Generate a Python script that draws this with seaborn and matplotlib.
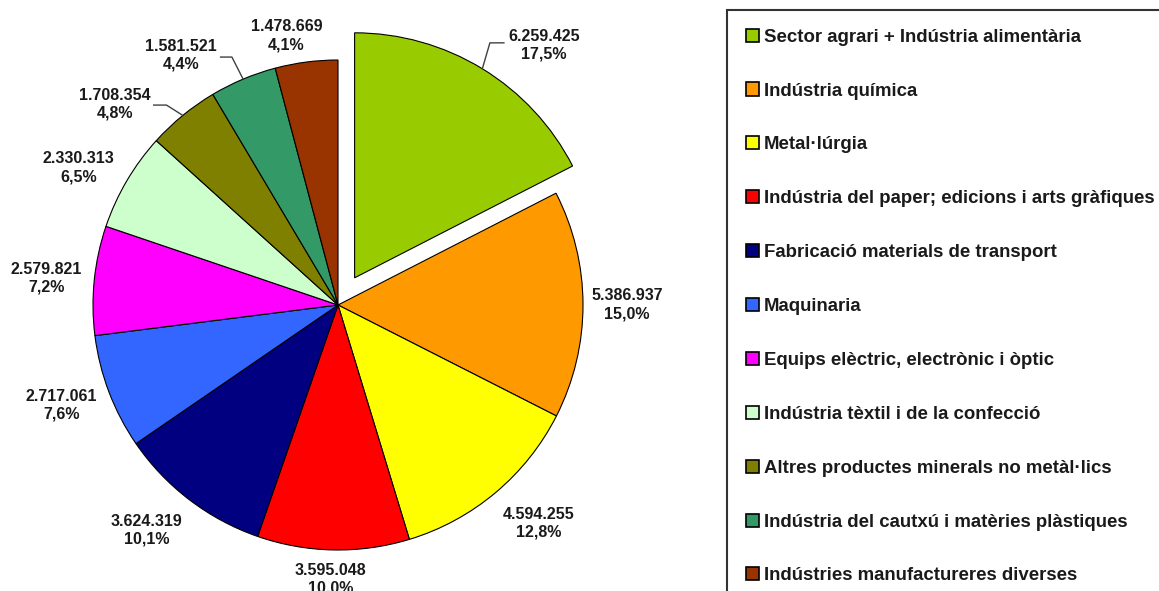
import numpy as np
import matplotlib
matplotlib.use("Agg")
import matplotlib.pyplot as plt
import matplotlib.patches as mpatches
import seaborn as sns

# data
sectors = [
    "Sector agrari + Indústria alimentària",
    "Indústria química",
    "Metal·lúrgia",
    "Indústria del paper; edicions i arts gràfiques",
    "Fabricació materials de transport",
    "Maquinaria",
    "Equips elèctric, electrònic i òptic",
    "Indústria tèxtil i de la confecció",
    "Altres productes minerals no metàl·lics",
    "Indústria del cautxú i matèries plàstiques",
    "Indústries manufactureres diverses",
]
values = [6259425, 5386937, 4594255, 3595048, 3624319, 2717061,
          2579821, 2330313, 1708354, 1581521, 1478669]
colors = ["#99CC00", "#FF9900", "#FFFF00", "#FF0000", "#000080", "#3366FF",
          "#FF00FF", "#CCFFCC", "#808000", "#339966", "#993300"]

# label centres, in pie-radius units
label_pos = [(0.84, 1.06), (1.18, 0.0), (0.82, -0.89), (-0.03, -1.12),
             (-0.78, -0.92), (-1.13, -0.41), (-1.19, 0.11), (-1.06, 0.56),
             (-0.91, 0.82), (-0.64, 1.02), (-0.21, 1.10)]
# slices with a leader line: index -> (elbow, end)
leaders = {
    0: ((0.62, 1.07), (0.68, 1.07)),
    8: ((-0.70, 0.816), (-0.755, 0.816)),
    9: ((-0.433, 1.012), (-0.482, 1.012)),
}
explode = [0.13] + [0] * 10


def fmt_num(v):
    return f"{v:,}".replace(",", ".")


def fmt_pct(p):
    return f"{p:.1f}".replace(".", ",") + "%"


def main():
    sns.set_theme(style="white")
    plt.rcParams["font.family"] = ["Liberation Sans", "DejaVu Sans"]

    W, H = 1159, 591
    fig = plt.figure(figsize=(W / 100, H / 100), dpi=100)
    fig.patch.set_facecolor("white")

    R = 245.0          # pie radius in px
    cx, cy = 338, 305  # pie centre in px (from top-left)
    ax_w = 720
    ax = fig.add_axes([0, 0, ax_w / W, 1])

    wedges, _ = ax.pie(values, colors=colors, startangle=90, counterclock=False,
                       explode=explode,
                       wedgeprops=dict(edgecolor="black", linewidth=0.8))
    ax.set_aspect("auto")
    ax.set_xlim(-cx / R, (ax_w - cx) / R)
    ax.set_ylim(-(H - cy) / R, cy / R)
    ax.axis("off")

    total = sum(values)
    for i, (w, v) in enumerate(zip(wedges, values)):
        x, y = label_pos[i]
        ax.text(x, y, f"{fmt_num(v)}\n{fmt_pct(100 * v / total)}",
                ha="center", va="center", fontsize=11.5, fontweight="bold",
                color="#1a1a1a", linespacing=1.25)
        if i in leaders:
            mid = np.deg2rad((w.theta1 + w.theta2) / 2)
            r0 = 1 + explode[i]
            (ex, ey), (fx, fy) = leaders[i]
            ax.plot([r0 * np.cos(mid), ex, fx], [r0 * np.sin(mid), ey, fy],
                    color="#404040", lw=1.0, solid_capstyle="butt")

    handles = [mpatches.Patch(facecolor=c, edgecolor="black", linewidth=1.2)
               for c in colors]
    F = 13.4
    leg = fig.legend(handles, sectors, loc="upper left",
                     bbox_to_anchor=(727 / W, 1 - 10 / H),
                     bbox_transform=fig.transFigure,
                     prop=dict(weight="bold", size=F),
                     frameon=True, fancybox=False, borderaxespad=0,
                     borderpad=1.0, labelspacing=1.98,
                     handlelength=0.7, handleheight=0.7,
                     handletextpad=0.27)
    frame = leg.get_frame()
    frame.set_edgecolor("black")
    frame.set_linewidth(1.5)
    for t in leg.get_texts():
        t.set_color("#1a1a1a")

    fig.savefig("out.png", dpi=100)


if __name__ == "__main__":
    main()
